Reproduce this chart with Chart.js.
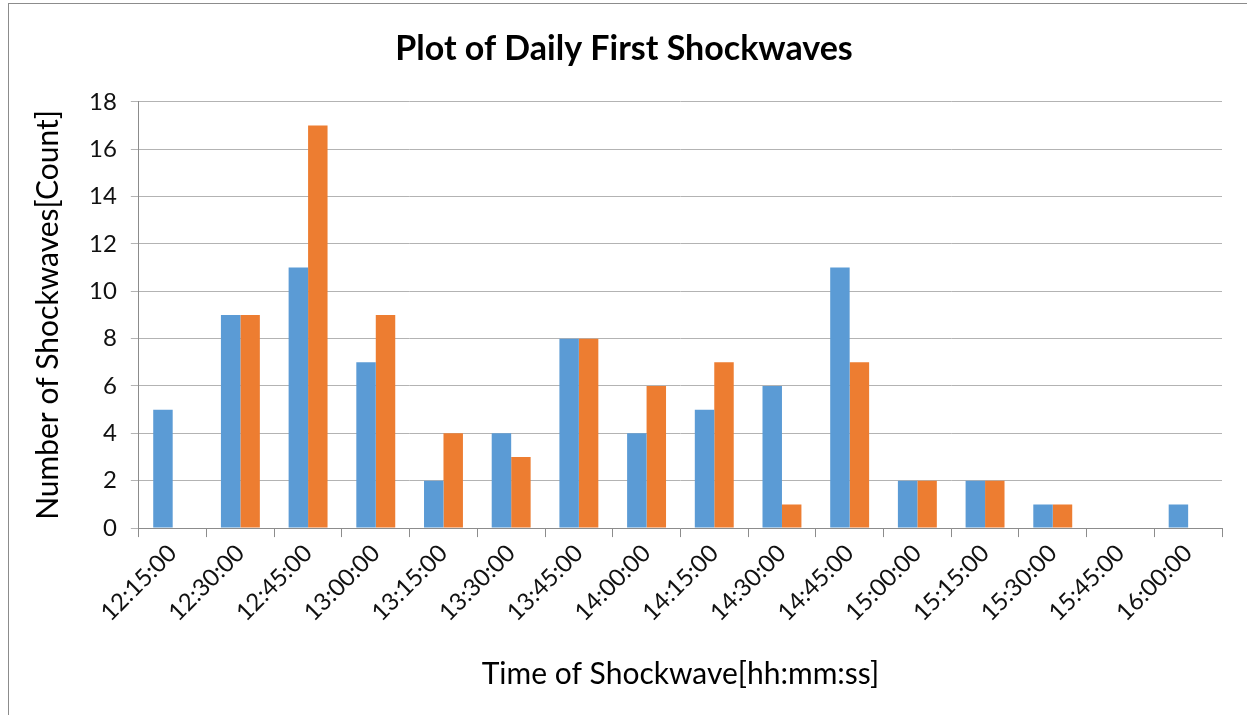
<!DOCTYPE html>
<html>
<head>
<meta charset="utf-8">
<script src="https://cdn.jsdelivr.net/npm/chart.js@4.4.1/dist/chart.umd.min.js"></script>
<style>
  body { margin: 0; background: #fff; overflow: hidden; }
  #wrap { position: relative; width: 1247px; height: 715px; }
  #frame { position: absolute; left: 8px; top: 3px; width: 1400px; height: 900px;
           border-left: 1px solid #8c8c8c; border-top: 1px solid #8c8c8c; }
  canvas { position: absolute; left: 0; top: 0; }
</style>
</head>
<body>
<div id="wrap">
  <div id="frame"></div>
  <canvas id="barchart" width="1247" height="715"></canvas>
</div>
<script>
// times of the first shockwave
const times = ['12:15:00', '12:30:00', '12:45:00', '13:00:00', '13:15:00', '13:30:00',
    '13:45:00', '14:00:00', '14:15:00', '14:30:00', '14:45:00', '15:00:00',
    '15:15:00', '15:30:00', '15:45:00', '16:00:00']
const seriesA = [5, 9, 11, 7, 2, 4, 8, 4, 5, 6, 11, 2, 2, 1, 0, 1]
const seriesB = [0, 9, 17, 9, 4, 3, 8, 6, 7, 1, 7, 2, 2, 1, 0, 0]

const fontName = 'Lato, "Open Sans", sans-serif'

const bar_data = {
    labels: times,
    datasets: [{
        label: 'Series1',
        data: seriesA,
        backgroundColor: '#5B9BD5',
        categoryPercentage: 0.575,
        barPercentage: 1.0
    },
        {
            label: 'Series2',
            data: seriesB,
            backgroundColor: '#ED7D31',
            categoryPercentage: 0.575,
            barPercentage: 1.0
        }
    ]
};

var options1 = {
    responsive: false,
    animation: false,
    layout: {
        padding: {left: 26, right: 25, top: 21, bottom: 19}
    },
    plugins: {
        legend: {display: false},
        tooltip: {enabled: false},
        title: {
            display: true,
            text: 'Plot of Daily First Shockwaves',
            color: '#000',
            font: {family: fontName, size: 34, weight: 'bold'},
            padding: {top: 8, bottom: 32}
        }
    },
    scales: {
        x: {
            grid: {
                drawOnChartArea: false,
                drawTicks: true,
                tickLength: 9,
                color: '#8c8c8c'
            },
            border: {color: '#8c8c8c'},
            ticks: {
                color: '#111',
                font: {family: fontName, size: 24},
                minRotation: 45,
                maxRotation: 45,
                padding: 2
            },
            title: {
                display: true,
                text: 'Time of Shockwave[hh:mm:ss]',
                color: '#000',
                font: {family: fontName, size: 30},
                padding: {top: 27}
            }
        },
        y: {
            min: 0,
            max: 18,
            ticks: {
                stepSize: 2,
                color: '#111',
                font: {family: fontName, size: 24},
                padding: 14
            },
            grid: {
                color: '#b3b3b3',
                tickLength: 8
            },
            border: {color: '#8c8c8c'},
            title: {
                display: true,
                text: 'Number of Shockwaves[Count]',
                color: '#000',
                font: {family: fontName, size: 30},
                padding: {bottom: 9}
            }
        }
    }
};

var ctx = document.getElementById('barchart');
window.chart = new Chart(ctx, {
    type: 'bar',
    data: bar_data,
    options: options1
});
</script>
</body>
</html>
